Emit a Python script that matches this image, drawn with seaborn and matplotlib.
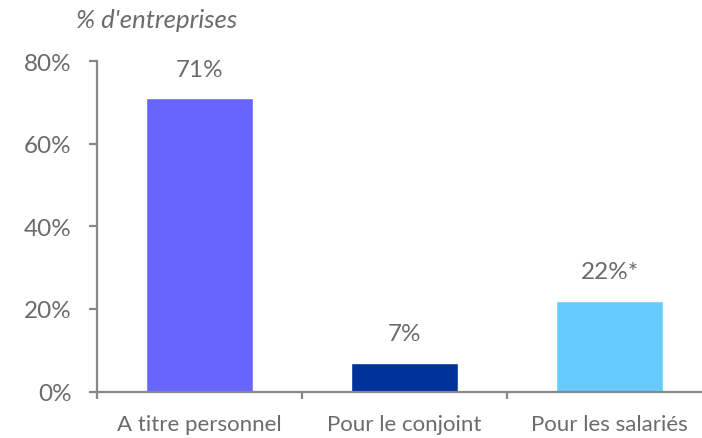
import matplotlib
matplotlib.use("Agg")
import matplotlib.pyplot as plt
import seaborn as sns
import pandas as pd

categories = ["A titre personnel", "Pour le conjoint", "Pour les salariés"]
values = [71, 7, 22]
value_labels = ["71%", "7%", "22%*"]
bar_colors = ["#6666FF", "#003399", "#66CCFF"]
y_ticks = [0, 20, 40, 60, 80]
y_tick_labels = ["0%", "20%", "40%", "60%", "80%"]
y_title = "% d'entreprises"

sns.set_theme(style="white")
plt.rcParams["font.family"] = ["Lato", "DejaVu Sans"]

text_color = "#6b6b6b"
axis_color = "#888888"

W, H = 702, 439
fig = plt.figure(figsize=(W / 100, H / 100), dpi=100)
ax = fig.add_axes([96.7 / W, (H - 392.5) / H, (712 - 96.7) / W, (392.5 - 62.3) / H])

df = pd.DataFrame({"cat": categories, "val": values})
sns.barplot(data=df, x="cat", y="val", hue="cat", palette=bar_colors,
            width=0.52, dodge=False, legend=False, ax=ax, saturation=1)

ax.set_xlim(-0.5, 2.5)
ax.set_ylim(0, 80)
ax.set_xlabel("")
ax.set_ylabel("")

for side in ("top", "right"):
    ax.spines[side].set_visible(False)
for side in ("left", "bottom"):
    ax.spines[side].set_color(axis_color)
    ax.spines[side].set_linewidth(1.6)

ax.set_yticks(y_ticks)
ax.set_yticklabels(y_tick_labels)
ax.tick_params(axis="y", which="major", left=True, length=6, width=1.6,
               color=axis_color, labelcolor=text_color, labelsize=17.5, pad=12)

ax.set_xticks(range(len(categories)))
ax.set_xticklabels(categories)
ax.set_xticks([-0.5, 0.5, 1.5], minor=True)
ax.tick_params(axis="x", which="major", bottom=False, length=0,
               labelcolor=text_color, labelsize=16, pad=16)
ax.tick_params(axis="x", which="minor", bottom=True, length=5, width=1.6,
               color=axis_color)

for i, (v, lab) in enumerate(zip(values, value_labels)):
    ax.annotate(lab, xy=(i, v), xytext=(0, 16), textcoords="offset points",
                ha="center", va="baseline", color=text_color, fontsize=17.5)

fig.text(76 / W, 1 - 20 / H, y_title, ha="left", va="center",
         color=text_color, fontsize=18.5, style="italic")

fig.savefig("out.png", dpi=100)
